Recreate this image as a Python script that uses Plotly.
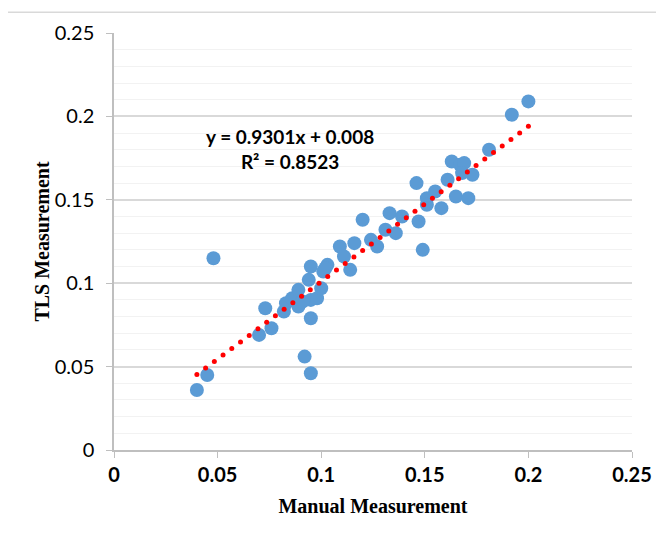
import numpy as np
import plotly.graph_objects as go

manual_x = [0.040, 0.045, 0.048, 0.070, 0.073, 0.076, 0.082, 0.083, 0.086, 0.089,
            0.089, 0.092, 0.095, 0.095, 0.095, 0.098, 0.100, 0.094, 0.095, 0.101,
            0.103, 0.102, 0.109, 0.111, 0.114, 0.116, 0.120, 0.124, 0.127, 0.131,
            0.133, 0.136, 0.139, 0.146, 0.147, 0.149, 0.151, 0.151, 0.155, 0.158,
            0.161, 0.163, 0.167, 0.169, 0.168, 0.173, 0.165, 0.171, 0.181, 0.192,
            0.200, 0.091]
tls_y = [0.036, 0.045, 0.115, 0.069, 0.085, 0.073, 0.083, 0.088, 0.091, 0.096,
         0.086, 0.056, 0.046, 0.079, 0.090, 0.091, 0.097, 0.102, 0.110, 0.107,
         0.111, 0.109, 0.122, 0.116, 0.108, 0.124, 0.138, 0.126, 0.122, 0.132,
         0.142, 0.130, 0.140, 0.160, 0.137, 0.120, 0.151, 0.147, 0.155, 0.145,
         0.162, 0.173, 0.171, 0.172, 0.166, 0.165, 0.152, 0.151, 0.180, 0.201,
         0.209, 0.089]

slope = 0.9301
intercept = 0.008
r2 = 0.8523
n_dots = 39

trend_x = np.linspace(min(manual_x), max(manual_x), n_dots)
trend_y = slope * trend_x + intercept

fig = go.Figure()
fig.add_trace(go.Scatter(x=manual_x, y=tls_y, mode="markers",
                         marker=dict(size=14, color="#5B9BD5", line=dict(width=0)),
                         showlegend=False))
fig.add_trace(go.Scatter(x=trend_x, y=trend_y, mode="markers",
                         marker=dict(size=5, color="#FF0000", line=dict(width=0)),
                         showlegend=False))

fig.add_annotation(x=0.0848, y=0.1803, xref="x", yref="y",
                   text=f"<b>y = {slope}x + {intercept}</b><br><b>R² = {r2}</b>",
                   showarrow=False, align="center",
                   font=dict(family="Lato, 'Open Sans', sans-serif", size=19, color="black"))

# page body has an 8px margin; figure placed so the plot sits where the reference has it
L, R, T, B = 106, 30, 19, 88
W, H = 656, 530
pw, ph = W - L - R, H - T - B
fx = lambda px: (px - L) / pw
fy = lambda py: (H - B - py) / ph
fig.add_shape(type="line", xref="paper", yref="paper", x0=fx(-2), x1=fx(656), y0=fy(-2), y1=fy(-2),
              line=dict(color="#D9D9D9", width=1.5))
fig.add_shape(type="line", xref="paper", yref="paper", x0=fx(-2), x1=fx(-2), y0=fy(-2), y1=fy(530),
              line=dict(color="#D9D9D9", width=1.5))

tick_font = dict(family="Lato, 'Open Sans', sans-serif", size=20, color="black")
title_font = dict(family="'Liberation Serif', 'Times New Roman', serif", size=20, color="black")

fig.update_layout(
    width=W, height=H,
    margin=dict(l=L, r=R, t=T, b=B),
    paper_bgcolor="white", plot_bgcolor="white",
    xaxis=dict(range=[0, 0.25], tickvals=[0, 0.05, 0.1, 0.15, 0.2, 0.25],
               ticktext=["<b>0</b>", "<b>0.05</b>", "<b>0.1</b>", "<b>0.15</b>", "<b>0.2</b>", "<b>0.25</b>"],
               showgrid=False, zeroline=False, showline=True, linecolor="#BFBFBF", linewidth=1.5,
               ticks="outside", ticklen=6, tickcolor="#BFBFBF", tickfont=tick_font,
               title=dict(text="<b>Manual Measurement</b>", standoff=14, font=title_font)),
    yaxis=dict(range=[0, 0.25], tickvals=[0, 0.05, 0.1, 0.15, 0.2, 0.25],
               ticktext=["0", "0.05", "0.1", "0.15", "0.2", "0.25"],
               showgrid=True, gridcolor="#D9D9D9", gridwidth=1.5,
               minor=dict(dtick=0.01, showgrid=True, gridcolor="#F2F2F2", gridwidth=1),
               zeroline=False, showline=True, linecolor="#BFBFBF", linewidth=1.5,
               ticks="outside", ticklen=6, tickcolor="#BFBFBF", tickfont=tick_font,
               ticklabelstandoff=8,
               title=dict(text="<b>TLS Measurement</b>", standoff=0, font=title_font)),
)

fig.write_html("out.html")
